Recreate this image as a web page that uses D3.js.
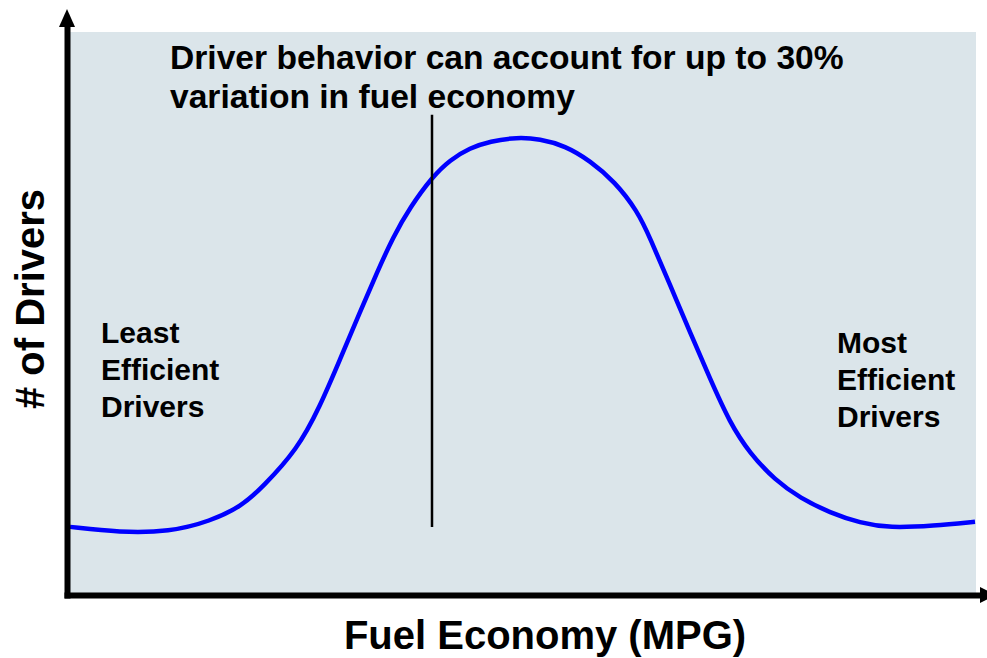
<!DOCTYPE html>
<html>
<head>
<meta charset="utf-8">
<script src="https://cdn.jsdelivr.net/npm/d3@7"></script>
<style>
  html, body { margin: 0; padding: 0; background: #ffffff; }
  svg { display: block; }
  text { font-family: "Liberation Sans", Arial, Helvetica, sans-serif; font-weight: bold; fill: #000; }
</style>
</head>
<body>
<svg id="chart" width="987" height="658"></svg>
<script>
// Fuel economy (relative position, 0-100) vs number of drivers (relative, 0-100)
const fuelEconomy = [0, 5.5, 11.0, 15.5, 19.0, 21.3, 25.1, 27.6, 29.8, 32.0, 33.9, 35.7, 37.6, 40.0, 42.0, 44.2, 46.4, 49.4, 51.9, 54.7, 57.5, 60.2, 62.7, 64.1, 66.3, 68.5, 70.7, 72.9, 75.1, 77.9, 80.7, 84.0, 87.3, 90.6, 95.4, 100];
const numDrivers  = [12.1, 11.1, 11.2, 13.1, 15.8, 19.2, 25.8, 33.4, 41.7, 50.1, 57.2, 63.6, 68.9, 74.2, 77.3, 79.4, 80.6, 81.3, 81.0, 79.8, 77.1, 73.4, 68.2, 63.4, 55.1, 46.7, 38.5, 30.6, 25.2, 20.4, 17.2, 14.6, 12.8, 11.9, 12.3, 13.0];
const markerX = 40.0;
const markerRange = [12.1, 85.3];
const titleLines = ["Driver behavior can account for up to 30%", "variation in fuel economy"];
const leftLabel = ["Least", "Efficient", "Drivers"];
const rightLabel = ["Most", "Efficient", "Drivers"];
const xTitle = "Fuel Economy (MPG)";
const yTitle = "# of Drivers";

const svg = d3.select("#chart");
const plot = { left: 70, right: 976, top: 32, bottom: 595 };

const x = d3.scaleLinear().domain([0, 100]).range([plot.left, 975]);
const y = d3.scaleLinear().domain([0, 100]).range([plot.bottom, plot.top]);

// plot background
svg.append("rect")
  .attr("x", plot.left).attr("y", plot.top)
  .attr("width", plot.right - plot.left).attr("height", plot.bottom - plot.top)
  .attr("fill", "#dbe5ea");

// curve
const data = fuelEconomy.map((v, i) => ({ x: v, y: numDrivers[i] }));
svg.append("path")
  .datum(data)
  .attr("fill", "none")
  .attr("stroke", "#0000ff")
  .attr("stroke-width", 4.5)
  .attr("stroke-linejoin", "round")
  .attr("d", d3.line().x(d => x(d.x)).y(d => y(d.y)).curve(d3.curveBasis));

// vertical marker
svg.append("line")
  .attr("x1", x(markerX)).attr("x2", x(markerX))
  .attr("y1", y(markerRange[0])).attr("y2", y(markerRange[1]))
  .attr("stroke", "#000").attr("stroke-width", 2.5);

// axes (no ticks), thick with arrowheads
const xAxisScale = d3.scaleLinear().domain([0, 100]).range([64, 982]);
const yAxisScale = d3.scaleLinear().domain([0, 100]).range([598, 25]);
const gx = svg.append("g").attr("transform", `translate(0,${plot.bottom})`)
  .call(d3.axisBottom(xAxisScale).tickValues([]).tickSizeOuter(0));
const gy = svg.append("g").attr("transform", `translate(67,0)`)
  .call(d3.axisLeft(yAxisScale).tickValues([]).tickSizeOuter(0));
[gx, gy].forEach(g => g.select(".domain").attr("stroke", "#000").attr("stroke-width", 6));

// arrowheads
svg.append("path").attr("d", "M59,27 L67,9 L75,27 Z").attr("fill", "#000");
svg.append("path").attr("d", "M980,587 L996,595 L980,603 Z").attr("fill", "#000");

// title
const title = svg.append("text").attr("x", 170).attr("y", 69).style("font-size", "33.6px");
titleLines.forEach((t, i) => title.append("tspan").attr("x", 170).attr("dy", i === 0 ? 0 : 39).text(t));

// side labels
const ll = svg.append("text").attr("x", 101).attr("y", 343).style("font-size", "30px");
leftLabel.forEach((t, i) => ll.append("tspan").attr("x", 101).attr("dy", i === 0 ? 0 : 37).text(t));
const rl = svg.append("text").attr("x", 837).attr("y", 353).style("font-size", "30px");
rightLabel.forEach((t, i) => rl.append("tspan").attr("x", 837).attr("dy", i === 0 ? 0 : 37).text(t));

// axis titles
svg.append("text").attr("x", 545).attr("y", 649).attr("text-anchor", "middle")
  .style("font-size", "40px").text(xTitle);
svg.append("text").attr("transform", "translate(44,299) rotate(-90)").attr("text-anchor", "middle")
  .style("font-size", "40px").text(yTitle);
</script>
</body>
</html>
